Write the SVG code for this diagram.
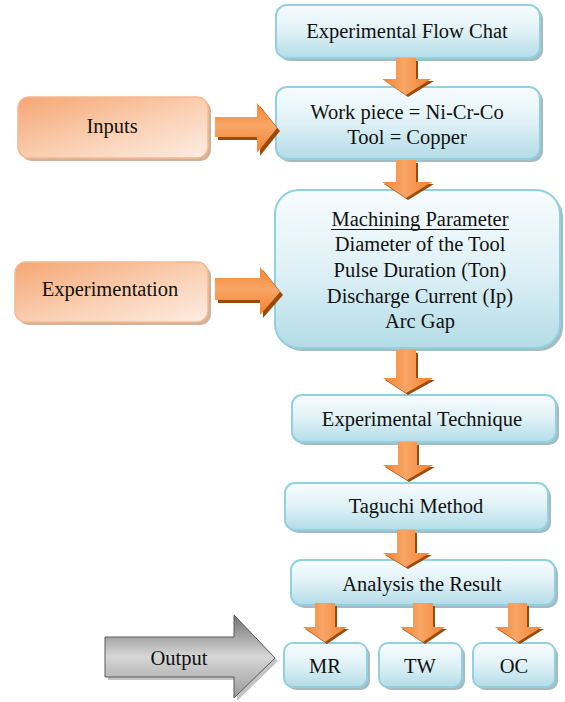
<svg xmlns="http://www.w3.org/2000/svg" width="565" height="702" viewBox="0 0 565 702">
<defs>
<linearGradient id="gBlue" x1="0" y1="0" x2="0" y2="1">
<stop offset="0" stop-color="#f7fcfe"/>
<stop offset="0.5" stop-color="#dff1f6"/>
<stop offset="1" stop-color="#b3dce7"/>
</linearGradient>
<linearGradient id="gOrange" x1="0" y1="0" x2="1" y2="1">
<stop offset="0" stop-color="#f5a673"/>
<stop offset="0.55" stop-color="#fad0b4"/>
<stop offset="1" stop-color="#fdede3"/>
</linearGradient>
<linearGradient id="gArrow" x1="0" y1="0" x2="1" y2="0">
<stop offset="0" stop-color="#f5852f"/>
<stop offset="0.45" stop-color="#f8a566"/>
<stop offset="1" stop-color="#f3822c"/>
</linearGradient>
<linearGradient id="gArrowH" x1="0" y1="0" x2="0" y2="1">
<stop offset="0" stop-color="#f5852f"/>
<stop offset="0.45" stop-color="#f8a566"/>
<stop offset="1" stop-color="#f3822c"/>
</linearGradient>
<linearGradient id="gGray" x1="0" y1="0" x2="0" y2="1">
<stop offset="0" stop-color="#707070"/>
<stop offset="0.5" stop-color="#d6d6d6"/>
<stop offset="1" stop-color="#9a9a9a"/>
</linearGradient>
</defs>
<style>
.shB{fill:#8fa9b2;opacity:0.8}
.box{fill:url(#gBlue);stroke:#93d0df;stroke-width:2}
.shO{fill:#c9a487;opacity:0.85}
.obox{fill:url(#gOrange);stroke:#f4b992;stroke-width:1.5}
.t{font-family:"Liberation Serif","Times New Roman",serif;font-size:20.5px;fill:#111;text-anchor:middle}
.ad{fill:url(#gArrow)}
.ar{fill:url(#gArrowH)}
.as{fill:#9b4a0c}
</style>
<rect width="565" height="702" fill="#ffffff"/>

<g id="inputs">
<rect class="shO" x="21" y="100" width="190" height="61" rx="11"/>
<rect class="obox" x="18" y="97" width="190" height="61" rx="11"/>
<text class="t" x="112" y="133">Inputs</text>
</g>

<g id="experimentation">
<rect class="shO" x="18" y="265" width="193" height="60" rx="11"/>
<rect class="obox" x="15" y="262" width="193" height="60" rx="11"/>
<text class="t" x="110" y="296">Experimentation</text>
</g>

<g id="output">
<path d="M108,640 H237 V618 L278,661 L237,701 V680 H108 Z" fill="#9c9c9c" opacity="0.6"/>
<path d="M105,637 H234 V615 L275,658 L234,698 V677 H105 Z" fill="url(#gGray)" stroke="#5a5a5a" stroke-width="1"/>
<text class="t" x="179" y="665">Output</text>
</g>

<g id="flowchat">
<rect class="shB" x="279" y="8" width="264" height="53" rx="11"/>
<rect class="box" x="276" y="5" width="264" height="53" rx="11"/>
<text class="t" x="407" y="38">Experimental Flow Chat</text>
</g>

<g id="workpiece">
<rect class="shB" x="279" y="90" width="264" height="72" rx="11"/>
<rect class="box" x="276" y="87" width="264" height="72" rx="11"/>
<text class="t" x="407" y="119">Work piece = Ni-Cr-Co</text>
<text class="t" x="407" y="144">Tool = Copper</text>
</g>

<g id="machining">
<rect class="shB" x="278" y="193" width="285" height="158" rx="24"/>
<rect class="box" x="275" y="190" width="285" height="158" rx="24"/>
<text class="t" x="420" y="226">Machining Parameter</text>
<line x1="331" y1="229.5" x2="509" y2="229.5" stroke="#111" stroke-width="1"/>
<text class="t" x="420" y="251">Diameter of the Tool</text>
<text class="t" x="420" y="277">Pulse Duration (Ton)</text>
<text class="t" x="420" y="303">Discharge Current (Ip)</text>
<text class="t" x="420" y="328">Arc Gap</text>
</g>

<g id="technique">
<rect class="shB" x="295" y="398" width="264" height="47" rx="10"/>
<rect class="box" x="292" y="395" width="264" height="47" rx="10"/>
<text class="t" x="422" y="426">Experimental Technique</text>
</g>

<g id="taguchi">
<rect class="shB" x="288" y="486" width="263" height="47" rx="10"/>
<rect class="box" x="285" y="483" width="263" height="47" rx="10"/>
<text class="t" x="416" y="513">Taguchi Method</text>
</g>

<g id="analysis">
<rect class="shB" x="294" y="563" width="264" height="45" rx="10"/>
<rect class="box" x="291" y="560" width="264" height="45" rx="10"/>
<text class="t" x="422" y="591">Analysis the Result</text>
</g>

<g id="mr">
<rect class="shB" x="287" y="646" width="83" height="44" rx="9"/>
<rect class="box" x="284" y="643" width="83" height="44" rx="9"/>
<text class="t" x="325" y="673">MR</text>
</g>

<g id="tw">
<rect class="shB" x="382" y="646" width="83" height="44" rx="9"/>
<rect class="box" x="379" y="643" width="83" height="44" rx="9"/>
<text class="t" x="420" y="673">TW</text>
</g>

<g id="oc">
<rect class="shB" x="476" y="646" width="82" height="44" rx="9"/>
<rect class="box" x="473" y="643" width="82" height="44" rx="9"/>
<text class="t" x="514" y="673">OC</text>
</g>

<g id="connectors">
<path class="as" d="M218,120 H260 V106 L280,131 L260,156 V140 H218 Z"/>
<path class="ar" d="M215,117 H257 V103 L277,128 L257,153 V137 H215 Z"/>
<path class="as" d="M218,281 H263 V270 L283,295 L263,318 V303 H218 Z"/>
<path class="ar" d="M215,278 H260 V267 L280,292 L260,315 V300 H215 Z"/>
<path class="as" d="M398,61 H418 V81 H434 L408,97 L385,81 H398 Z"/>
<path class="ad" d="M396,58 H416 V79 H431 L406,95 L382,79 H396 Z"/>
<path class="as" d="M398,163 H418 V184 H434 L408,200 L384,184 H398 Z"/>
<path class="ad" d="M396,160 H416 V182 H432 L406,198 L382,182 H396 Z"/>
<path class="as" d="M398,353 H418 V380 H435 L408,395 L385,380 H398 Z"/>
<path class="ad" d="M396,350 H416 V378 H433 L406,393 L383,378 H396 Z"/>
<path class="as" d="M400,445 H419 V467 H435 L409,482 L385,467 H400 Z"/>
<path class="ad" d="M398,442 H417 V465 H433 L407,480 L383,465 H398 Z"/>
<path class="as" d="M399,533 H417 V555 H432 L408,569 L385,555 H399 Z"/>
<path class="ad" d="M397,530 H415 V553 H430 L406,567 L383,553 H397 Z"/>
<path class="as" d="M317,606 H337 V629 H349 L327,644 L305,629 H317 Z"/>
<path class="ad" d="M315,603 H335 V627 H347 L325,642 L303,627 H315 Z"/>
<path class="as" d="M415,606 H435 V629 H447 L425,644 L402,629 H415 Z"/>
<path class="ad" d="M413,603 H433 V627 H445 L423,642 L400,627 H413 Z"/>
<path class="as" d="M510,606 H529 V629 H544 L520,644 L497,629 H510 Z"/>
<path class="ad" d="M508,603 H527 V627 H542 L518,642 L495,627 H508 Z"/>
</g>
</svg>
